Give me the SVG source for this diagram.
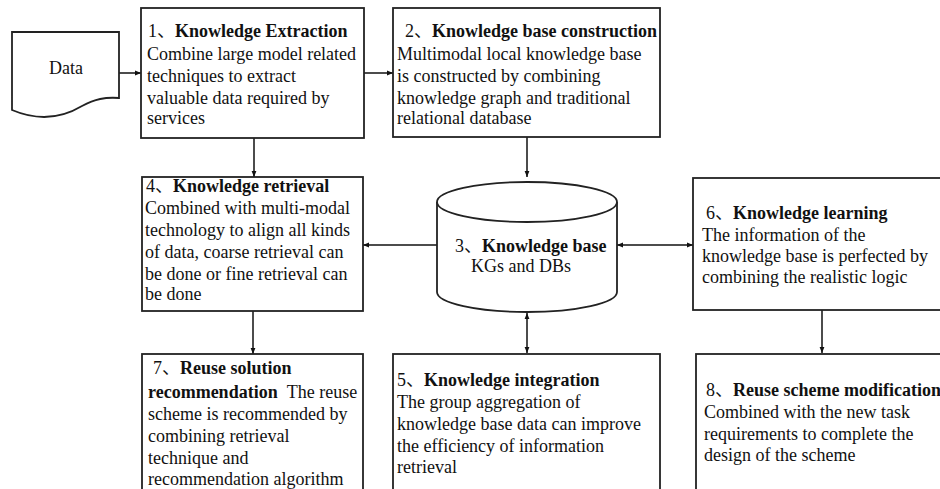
<svg xmlns="http://www.w3.org/2000/svg" width="940" height="489" viewBox="0 0 940 489">
  <style>
    .box { fill: #fff; stroke: #222; stroke-width: 1.8; }
    .link { fill: none; stroke: #111; stroke-width: 1.5; }
    text { font-family: "Liberation Serif", "Noto Sans CJK SC", serif; font-size: 18px; fill: #111; }
    .b { font-weight: bold; }
  </style>
  <defs>
    <marker id="tip" viewBox="0 0 10 10" refX="10" refY="5" markerWidth="6" markerHeight="6" orient="auto-start-reverse" markerUnits="userSpaceOnUse">
      <path d="M0,1 L10,5 L0,9 Z" fill="#111"/>
    </marker>
  </defs>
  <rect width="940" height="489" fill="#fff"/>

  <!-- connectors -->
  <g id="connectors">
    <line class="link" x1="119" y1="73" x2="141" y2="73" marker-end="url(#tip)"/>
    <line class="link" x1="364" y1="73" x2="393" y2="73" marker-end="url(#tip)"/>
    <line class="link" x1="254" y1="138" x2="254" y2="177" marker-end="url(#tip)"/>
    <line class="link" x1="527" y1="137" x2="527" y2="177" marker-end="url(#tip)"/>
    <line class="link" x1="437" y1="245" x2="363" y2="245" marker-end="url(#tip)"/>
    <line class="link" x1="617" y1="245" x2="693" y2="245" marker-start="url(#tip)" marker-end="url(#tip)"/>
    <line class="link" x1="527" y1="313" x2="527" y2="353" marker-start="url(#tip)" marker-end="url(#tip)"/>
    <line class="link" x1="253" y1="311" x2="253" y2="354" marker-end="url(#tip)"/>
    <line class="link" x1="822" y1="310" x2="822" y2="353" marker-end="url(#tip)"/>
  </g>

  <!-- data document -->
  <g id="data">
    <path class="box" d="M12,32 L119,32 L119,98 C105,97 95,99 82,106 C62,118 38,121 12,110 Z"/>
    <text x="66" y="74" text-anchor="middle">Data</text>
  </g>

  <g id="extraction">
    <rect class="box" x="141" y="8" width="223" height="130"/>
    <text x="148" y="37">1<tspan>、</tspan><tspan class="b">Knowledge Extraction</tspan></text>
    <text x="147" y="60">Combine large model related</text>
    <text x="147" y="82">techniques to extract</text>
    <text x="147" y="104">valuable data required by</text>
    <text x="147" y="124">services</text>
  </g>

  <g id="construction">
    <rect class="box" x="393" y="8" width="267" height="129"/>
    <text x="405" y="37">2<tspan>、</tspan><tspan class="b">Knowledge base construction</tspan></text>
    <text x="397" y="60">Multimodal local knowledge base</text>
    <text x="397" y="82">is constructed by combining</text>
    <text x="397" y="104">knowledge graph and traditional</text>
    <text x="397" y="124">relational database</text>
  </g>

  <g id="retrieval">
    <rect class="box" x="142" y="177" width="221" height="134"/>
    <text x="146" y="192">4<tspan>、</tspan><tspan class="b">Knowledge retrieval</tspan></text>
    <text x="145" y="214">Combined with multi-modal</text>
    <text x="145" y="236">technology to align all kinds</text>
    <text x="145" y="258">of data, coarse retrieval can</text>
    <text x="145" y="280">be done or fine retrieval can</text>
    <text x="145" y="300">be done</text>
  </g>

  <g id="knowledge-base">
    <path class="box" d="M437,202 L437,292 A90,20 0 0 0 617,292 L617,202"/>
    <ellipse class="box" cx="527" cy="202" rx="90" ry="20"/>
    <text x="455" y="252">3<tspan>、</tspan><tspan class="b">Knowledge base</tspan></text>
    <text x="471" y="272">KGs and DBs</text>
  </g>

  <g id="learning">
    <rect class="box" x="693" y="178" width="270" height="132"/>
    <text x="706" y="219">6<tspan>、</tspan><tspan class="b">Knowledge learning</tspan></text>
    <text x="702" y="241">The information of the</text>
    <text x="702" y="262">knowledge base is perfected by</text>
    <text x="702" y="283">combining the realistic logic</text>
  </g>

  <g id="recommendation">
    <rect class="box" x="142" y="354" width="221" height="150"/>
    <text x="153" y="374">7<tspan>、</tspan><tspan class="b">Reuse solution</tspan></text>
    <text x="148" y="398"><tspan class="b">recommendation</tspan><tspan dx="5"> The reuse</tspan></text>
    <text x="148" y="420">scheme is recommended by</text>
    <text x="148" y="442">combining retrieval</text>
    <text x="148" y="464">technique and</text>
    <text x="148" y="485">recommendation algorithm</text>
  </g>

  <g id="integration">
    <rect class="box" x="393" y="354" width="267" height="150"/>
    <text x="397" y="386">5<tspan>、</tspan><tspan class="b">Knowledge integration</tspan></text>
    <text x="397" y="408">The group aggregation of</text>
    <text x="397" y="430">knowledge base data can improve</text>
    <text x="397" y="452">the efficiency of information</text>
    <text x="397" y="473">retrieval</text>
  </g>

  <g id="modification">
    <rect class="box" x="696" y="354" width="270" height="150"/>
    <text x="706" y="396">8<tspan>、</tspan><tspan class="b">Reuse scheme modification</tspan></text>
    <text x="704" y="418">Combined with the new task</text>
    <text x="704" y="440">requirements to complete the</text>
    <text x="704" y="461">design of the scheme</text>
  </g>
</svg>
